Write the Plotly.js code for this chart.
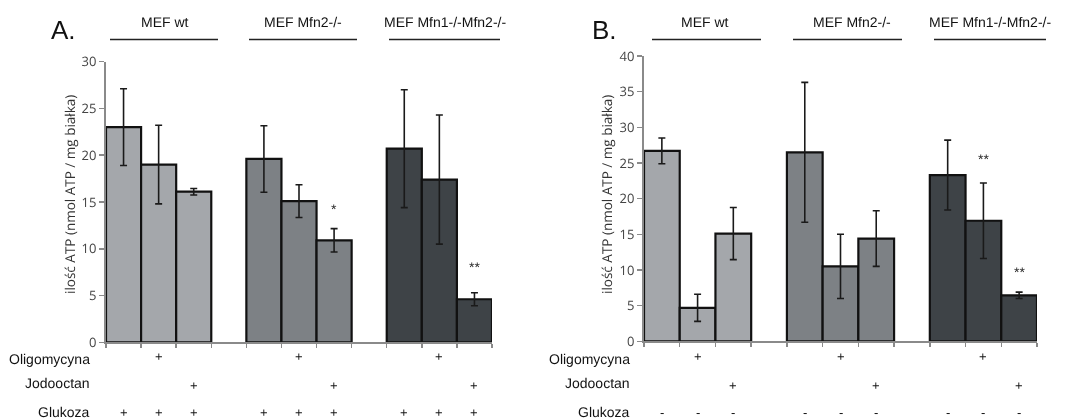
<!DOCTYPE html>
<html>
<head>
<meta charset="utf-8">
<script src="https://cdn.plot.ly/plotly-3.0.1.min.js"></script>
<style>
  html, body { margin: 0; padding: 0; background: #ffffff; }
  #chart { width: 1067px; height: 419px; }
  #chart .main-svg { will-change: transform; }
  #chart text { text-rendering: geometricPrecision; -webkit-font-smoothing: antialiased; }
</style>
</head>
<body>
<div id="chart"></div>
<script>
// ---------- data ----------
const groups = ["MEF wt", "MEF Mfn2-/-", "MEF Mfn1-/-Mfn2-/-"];
const rowLabels = ["Oligomycyna", "Jodooctan", "Glukoza"];
const oligomycyna = ["", "+", ""];
const jodooctan = ["", "", "+"];
const glukozaA = ["+", "+", "+"];
const glukozaB = ["-", "-", "-"];

// Panel A (with glucose)
const wtA = [23.0, 19.0, 16.1];
const wtAerr = [4.1, 4.2, 0.35];
const mfn2A = [19.6, 15.1, 10.9];
const mfn2Aerr = [3.55, 1.75, 1.25];
const mfn12A = [20.7, 17.4, 4.6];
const mfn12Aerr = [6.3, 6.9, 0.7];
const starsA = [{g: 1, c: 2, y: 14.3, t: "*"}, {g: 2, c: 2, y: 8.0, t: "**"}];

// Panel B (without glucose)
const wtB = [26.7, 4.7, 15.1];
const wtBerr = [1.8, 1.9, 3.65];
const mfn2B = [26.5, 10.5, 14.4];
const mfn2Berr = [9.8, 4.5, 3.9];
const mfn12B = [23.3, 16.9, 6.45];
const mfn12Berr = [4.9, 5.3, 0.45];
const starsB = [{g: 2, c: 1, y: 25.6, t: "**"}, {g: 2, c: 2, y: 9.7, t: "**"}];

const yTitle = "ilość ATP (nmol ATP / mg białka)";

// ---------- styling ----------
const colors = ["#a4a7ab", "#7d8185", "#3e4347"];
const W = 1067, H = 419;
const px = v => v / W;
const py = v => 1 - v / H;
const ink = "#111111";

function xpos(g, c) { return g * 4 + c; }

function barTrace(vals, errs, g, xa, ya) {
  return {
    type: "bar",
    x: vals.map((_, c) => xpos(g, c)),
    y: vals,
    width: 1,
    xaxis: xa, yaxis: ya,
    marker: {color: colors[g], line: {color: "#111111", width: 2.2}},
    error_y: {type: "data", array: errs, visible: true, color: "#1a1a1a", thickness: 1.6, width: 3.5},
    hoverinfo: "y",
    showlegend: false
  };
}

const data = [
  barTrace(wtA, wtAerr, 0, "x", "y"),
  barTrace(mfn2A, mfn2Aerr, 1, "x", "y"),
  barTrace(mfn12A, mfn12Aerr, 2, "x", "y"),
  barTrace(wtB, wtBerr, 0, "x2", "y2"),
  barTrace(mfn2B, mfn2Berr, 1, "x2", "y2"),
  barTrace(mfn12B, mfn12Berr, 2, "x2", "y2")
];

const tickFont = {family: "Open Sans, Liberation Sans, Arial, sans-serif", size: 13, color: "#444444"};
const labFont = {family: "Liberation Sans, Arial, sans-serif", size: 14, color: ink};

const boundaries = [];
for (let i = -0.5; i <= 10.5; i += 1) boundaries.push(i);

function xAxis(domain) {
  return {
    domain: domain, range: [-0.5, 10.5], showgrid: false, zeroline: false,
    showline: true, linecolor: "#8a8a8a", linewidth: 2,
    tickvals: boundaries, ticktext: boundaries.map(() => ""), ticks: "outside",
    ticklen: 4, tickwidth: 1.5, tickcolor: "#8a8a8a", fixedrange: true
  };
}
function yAxis(domain, max, anchor) {
  return {
    domain: domain, range: [0, max], dtick: 5, tick0: 0, anchor: anchor,
    showgrid: false, zeroline: false, showline: true, linecolor: "#8a8a8a", linewidth: 2,
    ticks: "outside", ticklen: 5, tickwidth: 1.5, tickcolor: "#8a8a8a",
    tickfont: tickFont, fixedrange: true
  };
}

const panels = [
  {xa: "x", ya: "y", letter: "A.", letterX: 63,
   hdrCenters: [165, 303, 445], lines: [[110, 218], [249, 357], [389, 500]],
   labelRight: 92, titleX: 70, gluk: glukozaA, stars: starsA},
  {xa: "x2", ya: "y2", letter: "B.", letterX: 604,
   hdrCenters: [705, 852, 990], lines: [[652, 761], [793, 902], [934, 1046]],
   labelRight: 632, titleX: 607, gluk: glukozaB, stars: starsB}
];

const layout = {
  width: W, height: H,
  margin: {l: 0, r: 0, t: 0, b: 0},
  paper_bgcolor: "#ffffff", plot_bgcolor: "rgba(0,0,0,0)",
  bargap: 0, barmode: "overlay",
  xaxis: xAxis([px(106), px(492)]),
  yaxis: yAxis([py(342.3), py(61.7)], 30, "x"),
  xaxis2: xAxis([px(644), px(1037)]),
  yaxis2: yAxis([py(341.3), py(56)], 40, "x2"),
  annotations: [],
  shapes: []
};
layout.xaxis.anchor = "y";
layout.xaxis2.anchor = "y2";

const rowY = [356, 385, 412];
const rowLabY = [359, 383, 412];

panels.forEach(p => {
  // panel letter
  layout.annotations.push({xref: "paper", yref: "paper", x: px(p.letterX), y: py(30), text: p.letter,
    showarrow: false, xanchor: "center", yanchor: "middle",
    font: {family: "Liberation Sans, Arial, sans-serif", size: 26, color: ink}});
  // group headers + lines
  groups.forEach((g, i) => {
    layout.annotations.push({xref: "paper", yref: "paper", x: px(p.hdrCenters[i]), y: py(22), text: g,
      showarrow: false, xanchor: "center", yanchor: "middle", font: labFont});
    layout.shapes.push({type: "line", xref: "paper", yref: "paper",
      x0: px(p.lines[i][0]), x1: px(p.lines[i][1]), y0: py(39.5), y1: py(39.5),
      line: {color: "#222222", width: 1.3}});
  });
  // y axis title
  layout.annotations.push({xref: "paper", yref: "paper", x: px(p.titleX), y: py(195), text: yTitle,
    textangle: -90, showarrow: false, xanchor: "center", yanchor: "middle",
    font: {family: "Open Sans, Liberation Sans, Arial, sans-serif", size: 13.5, color: "#333333"}});
  // row labels
  rowLabels.forEach((r, k) => {
    layout.annotations.push({xref: "paper", yref: "paper", x: px(p.labelRight), y: py(rowLabY[k]), text: r,
      showarrow: false, xanchor: "right", yanchor: "middle", font: labFont});
  });
  // condition marks
  const rows = [oligomycyna, jodooctan, p.gluk];
  groups.forEach((g, gi) => {
    rows.forEach((row, k) => {
      row.forEach((mark, c) => {
        if (!mark) return;
        layout.annotations.push({xref: p.xa, yref: "paper", x: xpos(gi, c), y: py(rowY[k]), text: mark,
          showarrow: false, xanchor: "center", yanchor: "middle",
          font: {family: "Liberation Sans, Arial, sans-serif", size: 13, color: ink}});
      });
    });
  });
  // significance stars
  p.stars.forEach(s => {
    layout.annotations.push({xref: p.xa, yref: p.ya, x: xpos(s.g, s.c), y: s.y, text: s.t,
      showarrow: false, xanchor: "center", yanchor: "middle",
      font: {family: "Liberation Sans, Arial, sans-serif", size: 14, color: "#222222"}});
  });
});

Plotly.newPlot("chart", data, layout, {displayModeBar: false, staticPlot: true});
</script>
</body>
</html>
